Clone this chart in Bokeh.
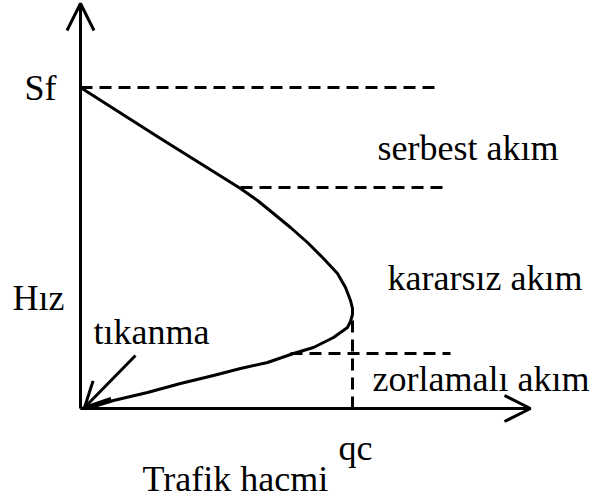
from bokeh.plotting import figure
from bokeh.models import Range1d, Arrow, OpenHead
from bokeh.core.properties import value
from bokeh.embed import file_html
from bokeh.resources import INLINE

# Speed–volume relation, schematic units (volume to the right, speed upwards)
volume = [0, 80, 160, 177, 193, 210, 227, 243, 257, 265, 270, 272, 272, 270,
          267, 253, 233, 213, 187, 160, 133, 100, 67, 33, 10, 0]
speed = [321, 270, 220, 208, 195, 181, 166, 150, 135, 121, 108, 100, 94, 87,
         81, 71, 61, 55, 46, 40, 33, 25, 16, 8, 1, 0]

SF = 321            # free-flow speed
QC = 272            # capacity volume
SPEED_QC = 94       # speed at capacity
free_limit = 221    # boundary: free flow / unstable flow
forced_limit = 55   # boundary: unstable flow / forced flow

region_labels = ["serbest akım", "kararsız akım", "zorlamalı akım"]
axis_labels = ["Trafik hacmi", "Hız"]
marks = ["Sf", "qc", "tıkanma"]

FONT = value("Liberation Serif")
FS = "36px"

p = figure(width=598, height=498, x_range=Range1d(-80, 518),
           y_range=Range1d(-90, 408), output_backend="svg",
           toolbar_location=None, x_axis_type=None, y_axis_type=None,
           min_border=0)
p.grid.visible = False
p.outline_line_color = None
p.background_fill_color = "white"
p.border_fill_color = "white"

# axes drawn as arrows
p.add_layout(Arrow(end=OpenHead(size=27, line_width=3), x_start=0, y_start=0,
                   x_end=0, y_end=405, line_width=3))
p.add_layout(Arrow(end=OpenHead(size=26, line_width=3), x_start=0, y_start=0,
                   x_end=450, y_end=0, line_width=3))

# dashed speed boundaries and capacity marker
dash = dict(line_color="black", line_width=3, line_dash="12 7")
p.line([0, 360], [SF, SF], **dash)
p.line([160, 365], [free_limit, free_limit], **dash)
p.line([210, 370], [forced_limit, forced_limit], **dash)
p.line([QC, QC], [0, SPEED_QC], **dash)

# the speed-volume curve
p.line(volume, speed, line_color="black", line_width=3, line_join="round")

# arrow pointing at jam condition
p.add_layout(Arrow(end=OpenHead(size=25, line_width=3), x_start=55, y_start=53,
                   x_end=4, y_end=1, line_width=3))

txt = dict(text_font=FONT, text_font_size=FS, text_baseline="alphabetic",
           text_align="left", text_color="black")
p.text(x=[297, 307, 292], y=[261, 131, 30], text=region_labels, **txt)
p.text(x=[62, -68], y=[-70, 111], text=axis_labels, **txt)
p.text(x=[-56, 258, 13], y=[321, -39, 77], text=marks, **txt)

open("out.html", "w").write(file_html(p, INLINE))
